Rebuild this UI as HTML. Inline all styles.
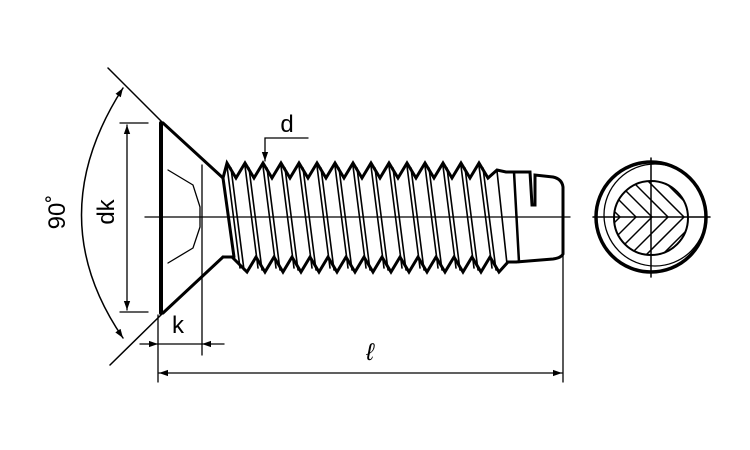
<!DOCTYPE html>
<html><head><meta charset="utf-8"><style>
html,body{margin:0;padding:0;background:#fff;}
svg{display:block;}
text{font-family:"Liberation Sans",sans-serif;fill:#000;}
</style></head><body>
<svg width="750" height="450" viewBox="0 0 750 450" xmlns="http://www.w3.org/2000/svg">
<defs>
<marker id="a" viewBox="0 0 10 10" refX="10" refY="5" markerWidth="9" markerHeight="9" orient="auto-start-reverse" markerUnits="userSpaceOnUse"><path d="M0,1.5 L10,5 L0,8.5 Z" fill="#000"/></marker>
<clipPath id="ic"><circle cx="651" cy="218" r="37"/></clipPath>
</defs>
<g stroke="#000" fill="none" stroke-linecap="round" stroke-linejoin="miter">
<path d="M161,123 L161,313" stroke-width="4"/>
<path d="M163,123 L223,178 M163,313 L223,257" stroke-width="3"/>
<path d="M108,68 L163,123 M163,313 L110,365" stroke-width="1.5"/>
<path d="M168,170 L193,185 L200,207 L200,227 L193,248 L168,263" stroke-width="1.3"/>
<path d="M202,165 L202,355" stroke-width="1.3"/>
<path d="M158,315 L158,382" stroke-width="1.3"/>
<path stroke-width="3" d="M223,178 L227,163 L236,178 L245,163 L254,178 L263,163 L272,178 L281,163 L290,178 L299,163 L308,178 L317,163 L326,178 L335,163 L344,178 L353,163 L362,178 L371,163 L380,178 L389,163 L398,178 L407,163 L416,178 L425,163 L434,178 L443,163 L452,178 L461,163 L470,178 L479,163 L488,178 L497,170 L506,172 L514,172 L527,172 L530,172 L532,205 L535,205 L535,175 L553,177 Q562,179 563,187 L563,254 Q561,258 553,259 L516,262"/>
<path stroke-width="3" d="M223,257 L232,257 L247,272 L256,257 L265,272 L274,257 L283,272 L292,257 L301,272 L310,257 L319,272 L328,257 L337,272 L346,257 L355,272 L364,257 L373,272 L382,257 L391,272 L400,257 L409,272 L418,257 L427,272 L436,257 L445,272 L454,257 L463,272 L472,257 L481,272 L490,257 L499,272 L508,262 L516,262"/>
<path stroke-width="3" d="M223,178 L234,257"/>
<g stroke-width="1.6">
<path d="M227,166 L240,268 M231,168 L244,270 M245,166 L258,268 M249,168 L262,270 M263,166 L276,268 M267,168 L280,270 M281,166 L294,268 M285,168 L298,270 M299,166 L312,268 M303,168 L316,270 M317,166 L330,268 M321,168 L334,270 M335,166 L348,268 M339,168 L352,270 M353,166 L366,268 M357,168 L370,270 M371,166 L384,268 M375,168 L388,270 M389,166 L402,268 M393,168 L406,270 M407,166 L420,268 M411,168 L424,270 M425,166 L438,268 M429,168 L442,270 M443,166 L456,268 M447,168 L460,270 M461,166 L474,268 M465,168 L478,270 M479,166 L492,268 M483,168 L496,270 M497,171 L507,264"/>
</g>
<path d="M514,172 L519,262" stroke-width="2.5"/>
<path d="M145,217 L570,217" stroke-width="1.3"/>
<path d="M563,245 L563,382" stroke-width="1.3"/>
<path d="M120,123 L148,123 M120,312 L148,312" stroke-width="1.3"/>
<path d="M127,125 L127,310" stroke-width="1.3" marker-start="url(#a)" marker-end="url(#a)"/>
<path d="M123,88 Q40,217 123,338" stroke-width="1.5" marker-start="url(#a)" marker-end="url(#a)"/>
<path d="M140,344 L158,344" stroke-width="1.3" marker-end="url(#a)"/>
<path d="M224,344 L202,344" stroke-width="1.3" marker-end="url(#a)"/>
<path d="M158,344 L202,344" stroke-width="1.3"/>
<path d="M159,373 L562,373" stroke-width="1.3" marker-start="url(#a)" marker-end="url(#a)"/>
<path d="M308,138 L265,138 L265,161" stroke-width="1.3" marker-end="url(#a)"/>
<circle cx="651" cy="217" r="55" stroke-width="3.5"/>
<circle cx="655" cy="215" r="51" stroke-width="1.3"/>
<circle cx="651" cy="218" r="37" stroke-width="2"/>
<g clip-path="url(#ic)" stroke-width="1.5">
<path d="M570,167 L620,217 L570,267 M586,167 L636,217 L586,267 M602,167 L652,217 L602,267 M618,167 L668,217 L618,267 M634,167 L684,217 L634,267 M650,167 L700,217 L650,267"/>
</g>
<path d="M593,217 L710,217 M651,158 L651,277" stroke-width="1.5"/>
</g>
<text x="287" y="132" font-size="24" text-anchor="middle">d</text>
<text x="178" y="333" font-size="24" text-anchor="middle">k</text>
<text x="370" y="360" font-size="24" font-style="italic" text-anchor="middle">ℓ</text>
<text transform="translate(114,212) rotate(-90)" font-size="24" text-anchor="middle">dk</text>
<text transform="translate(65,212) rotate(-90)" font-size="24" text-anchor="middle">90˚</text>
</svg>
</body></html>
